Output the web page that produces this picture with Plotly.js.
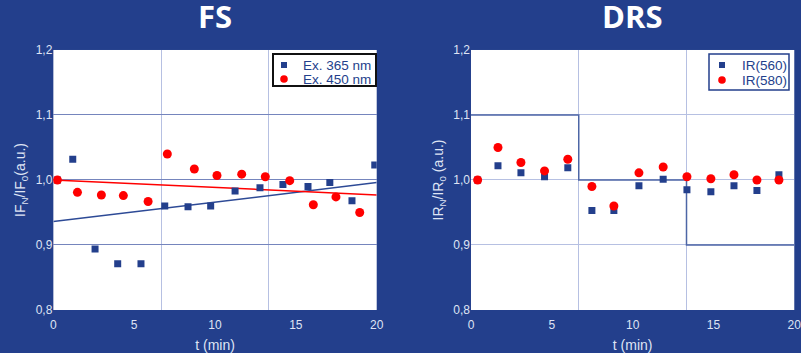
<!DOCTYPE html>
<html>
<head>
<meta charset="utf-8">
<script src="https://cdn.plot.ly/plotly-3.0.1.min.js"></script>
<style>
  html, body { margin: 0; padding: 0; background: #233f8c; }
  #chart { width: 801px; height: 353px; }
</style>
</head>
<body>
<div id="chart"></div>
<script>
// FS panel: normalised fluorescence intensity over time
const fsTime365 = [0.25, 1.2, 2.58, 3.98, 5.42, 6.89, 8.33, 9.73, 11.24, 12.78, 14.2, 15.75, 17.1, 18.47, 19.88];
const fs365 = [1.000, 1.032, 0.894, 0.871, 0.871, 0.960, 0.959, 0.960, 0.983, 0.988, 0.993, 0.990, 0.996, 0.968, 1.023];
const fsTime450 = [0.25, 1.49, 2.97, 4.33, 5.86, 7.05, 8.72, 10.12, 11.65, 13.11, 14.62, 16.08, 17.48, 18.95];
const fs450 = [1.000, 0.981, 0.977, 0.976, 0.967, 1.040, 1.017, 1.007, 1.009, 1.005, 0.999, 0.962, 0.974, 0.950];
// linear trends (end points)
const trendTime = [0, 20];
const trend365 = [0.936, 0.996];
const trend450 = [1.000, 0.977];

// DRS panel: normalised reflectance over time
const drsTime = [0.41, 1.67, 3.09, 4.55, 5.99, 7.48, 8.84, 10.39, 11.89, 13.36, 14.84, 16.27, 17.69, 19.05];
const ir560 = [1.000, 1.022, 1.011, 1.005, 1.019, 0.953, 0.953, 0.991, 1.001, 0.985, 0.982, 0.991, 0.984, 1.008];
const ir580 = [1.000, 1.050, 1.027, 1.014, 1.032, 0.990, 0.960, 1.011, 1.020, 1.005, 1.002, 1.008, 1.000, 1.000];
// stepped reference level
const stepTime = [0, 20 / 3, 40 / 3, 20];
const stepLevel = [1.1, 1.0, 0.9, 0.9];

// series names
const fsNames = ['Ex. 365 nm', 'Ex. 450 nm'];
const drsNames = ['IR(560)', 'IR(580)'];

const W = 801, H = 353;
const navy = '#233f8c';
const red = '#ff0000';
const tickColor = '#dfe4f4';
const fontFamily = 'Liberation Sans, Arial, sans-serif';

const traces = [
  { x: trendTime, y: trend365, mode: 'lines', line: { color: '#2d4a96', width: 1.5 }, hoverinfo: 'skip', xaxis: 'x', yaxis: 'y' },
  { x: trendTime, y: trend450, mode: 'lines', line: { color: red, width: 1.5 }, hoverinfo: 'skip', xaxis: 'x', yaxis: 'y' },
  { x: fsTime365, y: fs365, mode: 'markers', name: fsNames[0],
    marker: { symbol: 'square', size: 7, color: navy }, xaxis: 'x', yaxis: 'y' },
  { x: fsTime450, y: fs450, mode: 'markers', name: fsNames[1],
    marker: { symbol: 'circle', size: 9, color: red }, xaxis: 'x', yaxis: 'y' },
  { x: stepTime, y: stepLevel, mode: 'lines', line: { color: '#4d66a6', width: 1.5, shape: 'hv' },
    hoverinfo: 'skip', xaxis: 'x2', yaxis: 'y2' },
  { x: drsTime, y: ir560, mode: 'markers', name: drsNames[0],
    marker: { symbol: 'square', size: 7, color: navy }, xaxis: 'x2', yaxis: 'y2' },
  { x: drsTime, y: ir580, mode: 'markers', name: drsNames[1],
    marker: { symbol: 'circle', size: 9, color: red }, xaxis: 'x2', yaxis: 'y2' }
];

const tickFont = { family: fontFamily, size: 12, color: tickColor };
const titleFont = { family: fontFamily, size: 14, color: tickColor };

function xAxis(domain, anchor) {
  return {
    domain: domain, anchor: anchor, range: [0, 20], tickvals: [0, 5, 10, 15, 20],
    showgrid: false, zeroline: false, showline: false, ticks: '',
    minor: { dtick: 20 / 3, tick0: 0, showgrid: true, gridcolor: '#b6c0e2', gridwidth: 1 },
    tickfont: tickFont, ticklabelstandoff: 6, ticklabeloverflow: 'allow', fixedrange: true,
    title: { text: 't (min)', font: titleFont, standoff: 9 }
  };
}
function yAxis(anchor, title, gridColor) {
  return {
    domain: [0.1218, 0.8584], anchor: anchor, range: [0.8, 1.2], dtick: 0.1, tick0: 0.8,
    tickformat: '.1f', showgrid: true, gridcolor: gridColor, gridwidth: 1,
    zeroline: false, showline: false, ticks: '', tickfont: tickFont, fixedrange: true,
    title: { text: title, font: titleFont, standoff: 6 }
  };
}

// pixel helpers for the legend boxes
const px = v => v / W;
const py = v => 1 - v / H;
function rectPx(x0, y0, x1, y1, style) {
  return Object.assign({ type: 'rect', xref: 'paper', yref: 'paper',
    x0: px(x0), x1: px(x1), y0: py(y1), y1: py(y0) }, style);
}
function circlePx(cx, cy, r, color) {
  return { type: 'circle', xref: 'paper', yref: 'paper',
    x0: px(cx - r), x1: px(cx + r), y0: py(cy + r), y1: py(cy - r),
    fillcolor: color, line: { width: 0 } };
}
function legendText(text, x, y) {
  return { text: text, x: px(x), y: py(y), xref: 'paper', yref: 'paper',
    xanchor: 'left', yanchor: 'middle', showarrow: false,
    font: { family: fontFamily, size: 13.5, color: navy } };
}
function legendBlock(box, markerX, rowY, textX, names, border) {
  const shapes = [
    rectPx(box[0], box[1], box[2], box[3], { fillcolor: '#ffffff', line: border }),
    rectPx(markerX - 3, rowY[0] - 3, markerX + 3, rowY[0] + 3, { fillcolor: navy, line: { width: 0 } }),
    circlePx(markerX, rowY[1], 3.8, red)
  ];
  const texts = [legendText(names[0], textX, rowY[0]), legendText(names[1], textX, rowY[1])];
  return { shapes: shapes, texts: texts };
}

const fsLegend = legendBlock([273, 54, 376, 86], 284, [65, 79], 301, fsNames, { color: '#111111', width: 2 });
const drsLegend = legendBlock([709, 54, 789, 90], 722, [65, 80], 740, drsNames, { color: navy, width: 1.5 });

const layout = {
  width: W, height: H,
  margin: { l: 0, r: 0, t: 0, b: 0 },
  paper_bgcolor: navy, plot_bgcolor: '#ffffff',
  separators: ', ',
  showlegend: false,
  xaxis: xAxis([0.0666, 0.4703], 'y'),
  yaxis: yAxis('x', 'IF<sub>N</sub>/IF<sub>0</sub>(a.u.)', '#7585bd'),
  xaxis2: xAxis([0.588, 0.9916], 'y2'),
  yaxis2: yAxis('x2', 'IR<sub>N</sub>/IR<sub>0</sub> (a.u.)', '#b6c0e2'),
  shapes: fsLegend.shapes.concat(drsLegend.shapes),
  annotations: [
    { text: '<b>FS</b>', x: 0.2685, y: py(16), xref: 'paper', yref: 'paper', xanchor: 'center', yanchor: 'middle',
      showarrow: false, font: { family: 'Open Sans, sans-serif', size: 31, color: '#ffffff' } },
    { text: '<b>DRS</b>', x: 0.7898, y: py(16), xref: 'paper', yref: 'paper', xanchor: 'center', yanchor: 'middle',
      showarrow: false, font: { family: 'Open Sans, sans-serif', size: 31, color: '#ffffff' } }
  ].concat(fsLegend.texts, drsLegend.texts)
};

Plotly.newPlot('chart', traces, layout, { displayModeBar: false, staticPlot: true });
</script>
</body>
</html>
